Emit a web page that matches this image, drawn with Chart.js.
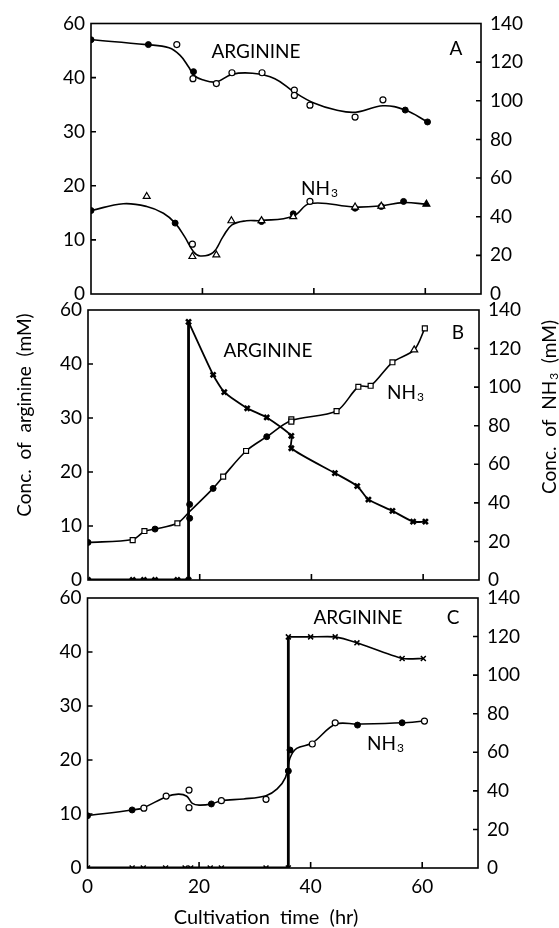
<!DOCTYPE html>
<html>
<head>
<meta charset="utf-8">
<script src="https://cdn.jsdelivr.net/npm/chart.js@4.4.1/dist/chart.umd.min.js"></script>
<style>
  html, body { margin: 0; padding: 0; background: #fff; }
  #wrap { position: relative; width: 559px; height: 928px; }
  .panel { position: absolute; left: 0; width: 559px; }
</style>
</head>
<body>
<div id="wrap">
  <div class="panel" style="top:0;height:300px"><canvas id="chart-a"></canvas></div>
  <div class="panel" style="top:285px;height:307px"><canvas id="chart-b"></canvas></div>
  <div class="panel" style="top:570px;height:358px"><canvas id="chart-c"></canvas></div>
</div>
<script>
// ---- axes ----
const xTickValues = [0, 20, 40, 60];
const leftTickValues = [0, 10, 20, 30, 40, 50];
const leftTickLabels = ["0", "10", "20", "30", "40", "60"];

// ---- panel A ----
const argA_t = [0, 10.3, 15.4, 18.4, 18.3, 22.5, 25.3, 30.7, 36.5, 36.5, 39.3, 47.4, 52.4, 56.4, 60.4];
const argA_v = [47.0, 46.1, 46.1, 41.1, 39.8, 38.9, 40.9, 40.9, 37.7, 36.7, 34.9, 32.7, 35.9, 34.0, 31.8];
const argA_k = ["f", "f", "o", "f", "o", "o", "o", "o", "o", "o", "o", "o", "o", "f", "f"];
const argAFit_t = [0, 10, 14, 16, 17.5, 18.5, 20, 22.5, 25.3, 29, 33, 36.5, 40, 44, 47.5, 52.4, 56.4, 60.4];
const argAFit_v = [47.0, 46.1, 45.5, 44.1, 42.0, 40.4, 39.6, 39.2, 40.6, 40.8, 39.8, 37.3, 35.3, 34.0, 33.6, 34.8, 34.0, 31.8];
const nh3A_t = [0, 10, 15.1, 18.2, 18.2, 22.5, 25.2, 30.6, 30.6, 36.3, 36.3, 39.3, 47.4, 47.4, 52.1, 52.1, 56.1, 60.2];
const nh3A_v = [43.2, 50.5, 36.7, 25.8, 19.4, 20.2, 37.9, 37.5, 38.0, 41.5, 40.0, 47.9, 44.4, 45.0, 45.3, 45.5, 47.9, 46.5];
const nh3A_k = ["f", "t", "f", "o", "t", "t", "t", "f", "t", "f", "t", "o", "f", "t", "f", "t", "f", "T"];
const nh3AFit_t = [0, 5.8, 10, 13, 15.1, 16.8, 18.4, 19.6, 21.9, 23.7, 25.3, 27.9, 30.6, 36.3, 39.3, 47.4, 52, 56, 60.2];
const nh3AFit_v = [43.2, 46.7, 45.3, 41.8, 36.7, 29.7, 21.9, 19.7, 21.4, 29.7, 35.8, 37.9, 38.0, 40.3, 46.8, 45.0, 45.6, 47.3, 46.5];

// ---- panel B ----
const argB_t = [0, 8, 10, 12, 16, 18, 18, 22.4, 24.4, 28.5, 32, 36.4, 36.4, 44.2, 48.2, 50.2, 54.5, 58.2, 60.4];
const argB_v = [0, 0, 0, 0, 0, 0, 47.8, 38.0, 34.8, 31.8, 30.1, 26.7, 24.4, 19.8, 17.4, 14.9, 12.8, 10.8, 10.8];
const argBStep_t = [0, 18, 18];
const argBStep_v = [0, 0, 47.8];
const argBFit_t = [18, 22.4, 24.4, 28.5, 32, 36.4, 36.4, 44.2, 48.2, 50.2, 54.5, 58.2, 60.4];
const argBFit_v = [47.8, 38.0, 34.8, 31.8, 30.1, 26.7, 24.4, 19.8, 17.4, 14.9, 12.8, 10.8, 10.8];
const nh3B_t = [0, 8, 10.1, 12, 16, 18.2, 18.2, 22.4, 24.2, 28.3, 32, 36.4, 36.4, 44.5, 48.4, 50.6, 54.5, 58.4, 60.3];
const nh3B_v = [19.5, 20.7, 25.4, 26.4, 29.4, 39.2, 32.0, 47.5, 53.6, 66.9, 74.3, 83.3, 82.1, 87.6, 100.2, 100.7, 112.9, 119.3, 130.5];
const nh3B_k = ["f", "s", "s", "f", "s", "f", "f", "f", "s", "s", "f", "s", "s", "s", "s", "s", "s", "t", "s"];
const nh3BFit_t = [0, 8, 10.1, 12, 16, 18.2, 22.4, 24.2, 28.3, 32, 36.4, 44.5, 48.4, 50.6, 54.5, 58.4, 60.3];
const nh3BFit_v = [19.5, 21.0, 25.2, 26.4, 29.4, 35.5, 47.5, 53.6, 66.9, 74.3, 82.7, 87.6, 100.2, 100.7, 112.9, 119.3, 130.5];

// ---- panel C ----
const argC_t = [0, 8, 10, 14, 17.5, 18.5, 22, 24, 32, 36, 36, 40, 44.4, 48.3, 56.4, 60.2];
const argC_v = [0, 0, 0, 0, 0, 0, 0, 0, 0, 0, 42.8, 42.8, 42.8, 41.7, 38.8, 38.8];
const argCStep_t = [0, 36, 36];
const argCStep_v = [0, 0, 42.8];
const argCFit_t = [36, 40, 44.4, 48.3, 56.4, 60.2];
const argCFit_v = [42.8, 42.8, 42.8, 41.7, 38.8, 38.8];
const nh3C_t = [0, 8, 10.1, 14.1, 18.2, 18.2, 22.2, 24, 32, 36, 36.3, 40.3, 44.4, 48.4, 56.4, 60.4];
const nh3C_v = [27.1, 30.1, 31.0, 37.3, 40.4, 31.3, 33.2, 34.9, 35.6, 50.3, 61.2, 64.3, 75.3, 74.1, 75.3, 76.2];
const nh3C_k = ["f", "f", "o", "o", "o", "o", "f", "o", "o", "f", "f", "o", "o", "f", "f", "o"];
const nh3CFit_t = [0, 8, 10.1, 14.1, 16.3, 17.8, 18.8, 20, 22.2, 24, 28, 32, 34, 35.5, 36.3, 37.5, 40.3, 44.4, 48.4, 56.4, 60.4];
const nh3CFit_v = [27.1, 30.1, 31.3, 37.0, 38.3, 37.2, 33.5, 32.6, 33.2, 34.9, 35.8, 37.5, 41.0, 47.0, 57.0, 62.0, 64.8, 74.5, 74.6, 75.3, 76.2];

const FONT = "Lato, 'Open Sans', sans-serif";
Chart.defaults.font.family = FONT;
Chart.defaults.color = "#000";

const markStyle = {
    f: { style: "circle", r: 3, bg: "#000", bw: 1 },
    o: { style: "circle", r: 3, bg: "#fff", bw: 1.2 },
    t: { style: "triangle", r: 4, bg: "#fff", bw: 1.2 },
    T: { style: "triangle", r: 4, bg: "#000", bw: 1.2 },
    s: { style: "rect", r: 3.5, bg: "#fff", bw: 1.2 },
    x: { style: "crossRot", r: 3.5, bg: "#000", bw: 1.5 },
    k: { style: "crossRot", r: 3.5, bg: "#000", bw: 2.6 },
};

const pts = (t, v) => t.map((x, i) => ({ x: x, y: v[i] }));

const markers = (t, v, kinds, axis) => ({
    data: pts(t, v),
    yAxisID: axis,
    showLine: false,
    pointStyle: kinds.map((k) => markStyle[k].style),
    pointRadius: kinds.map((k) => markStyle[k].r),
    pointBackgroundColor: kinds.map((k) => markStyle[k].bg),
    pointBorderColor: "#000",
    pointBorderWidth: kinds.map((k) => markStyle[k].bw),
    order: 0,
});

const curve = (t, v, axis, tension, width) => ({
    data: pts(t, v),
    yAxisID: axis,
    showLine: true,
    tension: tension,
    borderColor: "#000",
    borderWidth: width,
    pointRadius: 0,
    fill: false,
    order: 1,
});

// frame + inward tick marks
const framePlugin = {
    id: "frame",
    beforeDatasetsDraw(chart) {
        const { ctx, chartArea: a, scales } = chart;
        ctx.save();
        ctx.strokeStyle = "#000";
        ctx.lineWidth = 1.6;
        ctx.strokeRect(a.left, a.top, a.right - a.left, a.bottom - a.top);
        ctx.beginPath();
        scales.y.ticks.forEach((t) => {
            if (t.value > 0 && t.value < 50) {
                const py = scales.y.getPixelForValue(t.value);
                ctx.moveTo(a.left, py);
                ctx.lineTo(a.left + 5, py);
            }
        });
        scales.y1.ticks.forEach((t) => {
            if (t.value > 0 && t.value < 140) {
                const py = scales.y1.getPixelForValue(t.value);
                ctx.moveTo(a.right, py);
                ctx.lineTo(a.right - 5, py);
            }
        });
        scales.x.ticks.forEach((t) => {
            if (t.value > 0) {
                const px = scales.x.getPixelForValue(t.value);
                ctx.moveTo(px, a.bottom);
                ctx.lineTo(px, a.bottom - 6);
            }
        });
        ctx.stroke();
        ctx.restore();
    },
};

// free text: series names, panel letters, axis titles
const drawText = (ctx, item) => {
    ctx.save();
    ctx.translate(item.x, item.y);
    if (item.rotate) ctx.rotate(item.rotate);
    const mainFont = item.size + "px " + FONT;
    const subFont = Math.round(item.size * 0.62) + "px " + FONT;
    ctx.fillStyle = "#000";
    ctx.textBaseline = "middle";
    ctx.textAlign = "left";
    ctx.font = mainFont;
    const w = ctx.measureText(item.text).width;
    const tw = item.tail ? ctx.measureText(item.tail).width : 0;
    ctx.font = subFont;
    const sw = item.sub ? ctx.measureText(item.sub).width + 1 : 0;
    const x0 = item.align === "left" ? 0 : -(w + sw + tw) / 2;
    ctx.font = mainFont;
    ctx.fillText(item.text, x0, 0);
    if (item.sub) {
        ctx.font = subFont;
        ctx.fillText(item.sub, x0 + w + 1, item.size * 0.22);
    }
    if (item.tail) {
        ctx.font = mainFont;
        ctx.fillText(item.tail, x0 + w + sw, 0);
    }
    ctx.restore();
};

const notesPlugin = {
    id: "notes",
    afterDraw(chart, args, opts) {
        (opts.items || []).forEach((item) => drawText(chart.ctx, item));
    },
};

const makePanel = (id, cfg) =>
    new Chart(document.getElementById(id), {
        type: "scatter",
        data: { datasets: cfg.datasets },
        options: {
            responsive: true,
            maintainAspectRatio: false,
            animation: false,
            layout: { padding: { top: cfg.top, left: 0, right: 0, bottom: 0 } },
            plugins: {
                legend: { display: false },
                tooltip: { enabled: false },
                notes: { items: cfg.notes },
            },
            scales: {
                x: {
                    type: "linear",
                    min: 0,
                    max: 70,
                    grid: { display: false, drawTicks: false },
                    border: { display: false },
                    afterBuildTicks: (s) => {
                        s.ticks = xTickValues.map((v) => ({ value: v }));
                    },
                    ticks: { display: cfg.xLabels, padding: 7, font: { size: 19 }, color: "#000" },
                    afterFit: (s) => {
                        s.height = cfg.xHeight;
                        s.paddingLeft = 0;
                        s.paddingRight = 0;
                    },
                },
                y: {
                    position: "left",
                    min: 0,
                    max: 50,
                    grid: { display: false, drawTicks: false },
                    border: { display: false },
                    afterBuildTicks: (s) => {
                        s.ticks = leftTickValues.map((v) => ({ value: v }));
                    },
                    ticks: {
                        padding: 6,
                        font: { size: 19 },
                        color: "#000",
                        callback: (v, i) => leftTickLabels[i],
                    },
                    afterFit: (s) => {
                        s.width = cfg.left;
                        s.paddingTop = 0;
                        s.paddingBottom = 0;
                    },
                },
                y1: {
                    position: "right",
                    min: 0,
                    max: 140,
                    grid: { display: false, drawTicks: false },
                    border: { display: false },
                    ticks: { stepSize: 20, padding: 9, font: { size: 19 }, color: "#000" },
                    afterFit: (s) => {
                        s.width = 559 - cfg.right;
                        s.paddingTop = 0;
                        s.paddingBottom = 0;
                    },
                },
            },
        },
        plugins: [framePlugin, notesPlugin],
    });

makePanel("chart-a", {
    top: 23.5, left: 91, right: 481, xHeight: 6, xLabels: false,
    datasets: [
        curve(argAFit_t, argAFit_v, "y", 0.4, 1.6),
        markers(argA_t, argA_v, argA_k, "y"),
        curve(nh3AFit_t, nh3AFit_v, "y1", 0.4, 1.6),
        markers(nh3A_t, nh3A_v, nh3A_k, "y1"),
    ],
    notes: [
        { text: "ARGININE", x: 256, y: 52, size: 19 },
        { text: "NH", sub: "3", x: 301, y: 189, size: 19, align: "left" },
        { text: "A", x: 456, y: 49, size: 19 },
    ],
});

makePanel("chart-b", {
    top: 25, left: 88, right: 479, xHeight: 12, xLabels: false,
    datasets: [
        curve(argBStep_t, argBStep_v, "y", 0, 2.8),
        curve(argBFit_t, argBFit_v, "y", 0.2, 1.8),
        markers(argB_t, argB_v, argB_t.map(() => "k"), "y"),
        curve(nh3BFit_t, nh3BFit_v, "y1", 0.3, 1.6),
        markers(nh3B_t, nh3B_v, nh3B_k, "y1"),
    ],
    notes: [
        { text: "ARGININE", x: 268, y: 66, size: 19 },
        { text: "NH", sub: "3", x: 387, y: 108, size: 19, align: "left" },
        { text: "B", x: 458, y: 48, size: 19 },
        { text: "Conc.  of  arginine  (mM)", x: 25, y: 130, size: 19, rotate: -Math.PI / 2 },
        { text: "Conc.  of  NH", sub: "3", tail: "  (mM)", x: 550, y: 122, size: 19, rotate: -Math.PI / 2 },
    ],
});

makePanel("chart-c", {
    top: 28, left: 87.5, right: 478, xHeight: 60, xLabels: true,
    datasets: [
        curve(argCStep_t, argCStep_v, "y", 0, 2.8),
        curve(argCFit_t, argCFit_v, "y", 0.2, 1.6),
        markers(argC_t, argC_v, argC_t.map(() => "x"), "y"),
        curve(nh3CFit_t, nh3CFit_v, "y1", 0.35, 1.6),
        markers(nh3C_t, nh3C_v, nh3C_k, "y1"),
    ],
    notes: [
        { text: "ARGININE", x: 358, y: 48, size: 19 },
        { text: "NH", sub: "3", x: 367, y: 174, size: 19, align: "left" },
        { text: "C", x: 453, y: 48, size: 19 },
        { text: "Cultivation  time  (hr)", x: 266, y: 348, size: 20 },
    ],
});
</script>
</body>
</html>
